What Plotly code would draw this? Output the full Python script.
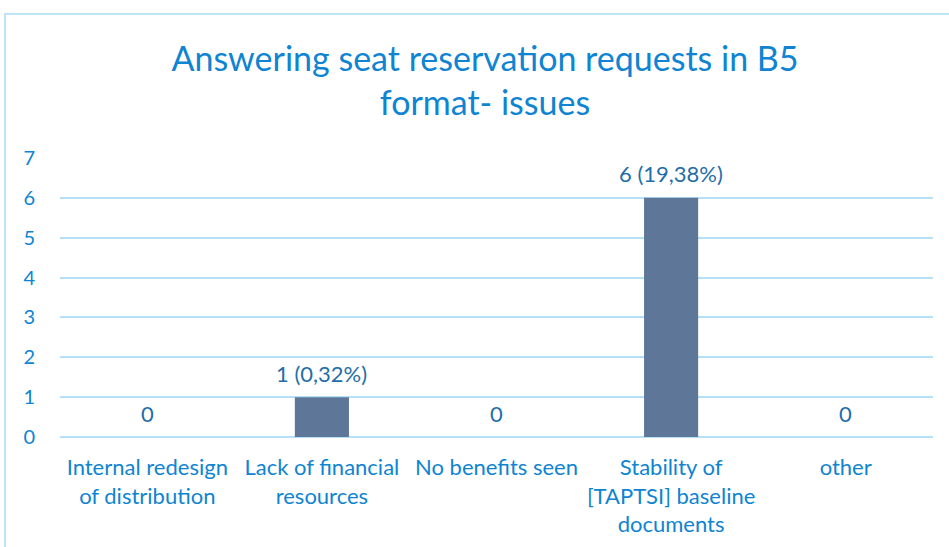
import plotly.graph_objects as go

categories = [
    "Internal redesign<br>of distribution",
    "Lack of financial<br>resources",
    "No benefits seen",
    "Stability of<br>[TAPTSI] baseline<br>documents",
    "other",
]
values = [0, 1, 0, 6, 0]
bar_labels = ["0", "1 (0,32%)", "0", "6 (19,38%)", "0"]
y_ticks = [0, 1, 2, 3, 4, 5, 6, 7]

FONT = "Lato, 'Open Sans', sans-serif"
BLUE = "#0e84d2"
GRID = "#b5e0f8"

fig = go.Figure(
    go.Bar(
        x=categories,
        y=values,
        marker=dict(color="#5e7799", line=dict(width=0)),
        width=0.31,
        hoverinfo="x+y",
    )
)

for cat, val, lab in zip(categories, values, bar_labels):
    fig.add_annotation(
        x=cat,
        y=val,
        text=lab,
        showarrow=False,
        yanchor="middle",
        yshift=24,
        font=dict(family=FONT, size=22, color="#1f6ea9"),
    )

fig.update_layout(
    width=949,
    height=547,
    margin=dict(l=60, r=16, t=158, b=110, autoexpand=False),
    paper_bgcolor="white",
    plot_bgcolor="white",
    showlegend=False,
    title=dict(
        text="Answering seat reservation requests in B5<br>format- issues",
        x=485 / 949,
        xanchor="center",
        y=1 - 71 / 547,
        yanchor="middle",
        font=dict(family=FONT, size=34, color=BLUE),
    ),
    font=dict(family=FONT, color=BLUE),
    shapes=[
        dict(
            type="rect",
            xref="paper",
            yref="paper",
            x0=(5 - 60) / 873,
            x1=2,
            y0=-1,
            y1=1 + (158 - 14) / 279,
            line=dict(color="#bfe4f7", width=2),
            layer="below",
        )
    ],
)

fig.update_yaxes(
    range=[0, 7],
    tickvals=y_ticks,
    automargin=False,
    showgrid=True,
    gridcolor=GRID,
    gridwidth=1.5,
    zeroline=True,
    zerolinecolor=GRID,
    zerolinewidth=1.5,
    showline=False,
    ticks="",
    ticklabelstandoff=24,
    tickfont=dict(family=FONT, size=20, color=BLUE),
)
fig.update_xaxes(
    automargin=False,
    showgrid=False,
    showline=False,
    ticks="",
    ticklabelstandoff=15,
    tickangle=0,
    tickfont=dict(family=FONT, size=22, color=BLUE),
)

fig.write_html(
    "out.html",
    config={"displayModeBar": False},
    post_script="document.body.style.margin='0';document.body.style.overflow='hidden';",
)
